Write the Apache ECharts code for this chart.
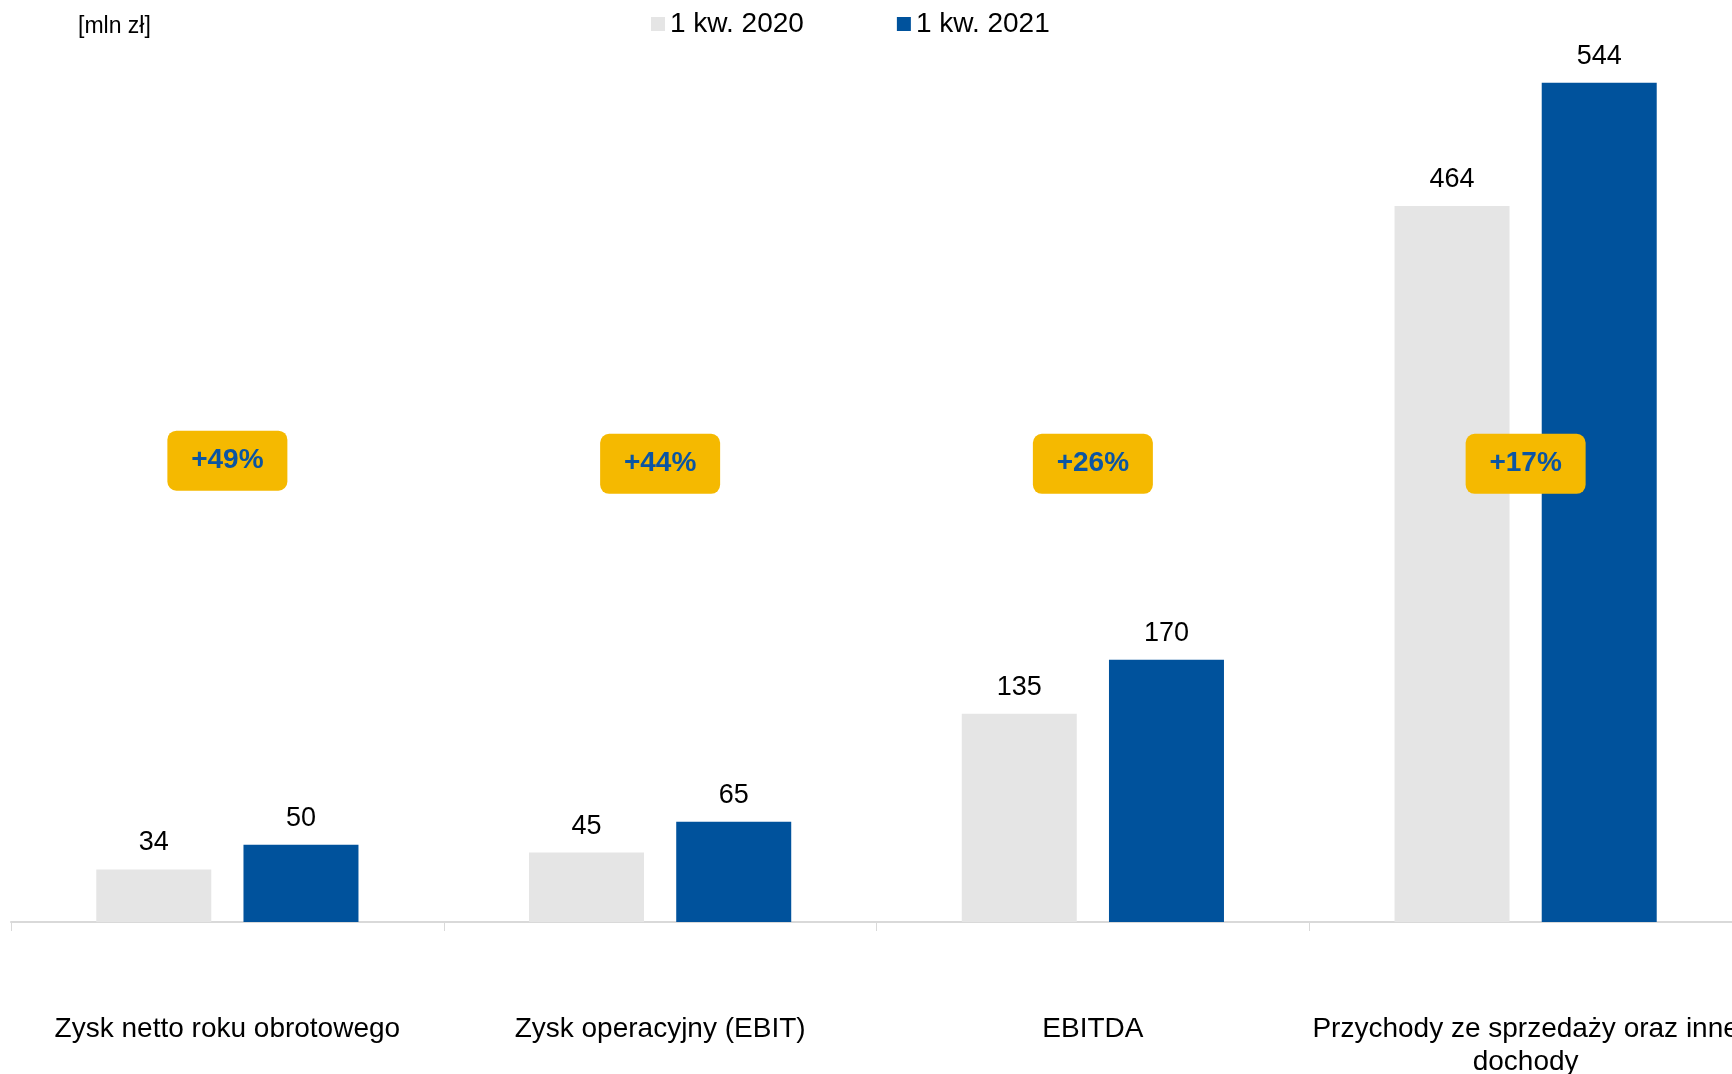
<!DOCTYPE html>
<html>
<head>
<meta charset="utf-8">
<script src="https://cdn.jsdelivr.net/npm/echarts@6/dist/echarts.min.js"></script>
<style>
    html, body { margin: 0; padding: 0; background: #fff; }
    #chart { width: 1732px; height: 1074px; }
</style>
</head>
<body>
<div id="chart"></div>
<script>
// dane z wykresu
const categories = ['Zysk netto roku obrotowego', 'Zysk operacyjny (EBIT)', 'EBITDA', 'Przychody ze sprzedaży oraz inne\ndochody']
const q1_2020 = [34, 45, 135, 464]
const q1_2021 = [50, 65, 170, 544]
const badgeText = ['+49%', '+44%', '+26%', '+17%']
const badgeLevel = [299, 297, 297, 297]

const FONT = '"Liberation Sans", Arial, sans-serif'

let myChart = echarts.init(document.getElementById('chart'))

myChart.setOption({
    animation: false,
    title: {
        text: '[mln zł]',
        left: 73,
        top: 10,
        textStyle: {
            fontFamily: FONT,
            fontSize: 23,
            fontWeight: 'normal',
            color: '#000'
        }
    },
    legend: {
        data: ['1 kw. 2020', '1 kw. 2021'],
        left: 646,
        top: 5,
        icon: 'rect',
        itemWidth: 14,
        itemHeight: 14,
        itemGap: 93,
        textStyle: {
            fontFamily: FONT,
            fontSize: 28,
            color: '#000'
        }
    },
    grid: {
        left: 11,
        width: 1731,
        top: 58,
        bottom: 152,
        outerBoundsMode: 'none',
        containLabel: false
    },
    xAxis: {
        type: 'category',
        data: categories,
        axisLine: {
            lineStyle: { color: '#D9D9D9', width: 2 }
        },
        axisTick: {
            show: true,
            length: 9,
            lineStyle: { color: '#D9D9D9', width: 1 }
        },
        axisLabel: {
            interval: 0,
            margin: 91,
            fontFamily: FONT,
            fontSize: 28,
            lineHeight: 33,
            color: '#000'
        }
    },
    yAxis: {
        type: 'value',
        min: 0,
        max: 560,
        show: false,
        splitLine: { show: false }
    },
    series: [
        {
            name: '1 kw. 2020',
            type: 'bar',
            data: q1_2020,
            barWidth: 115,
            barGap: '28%',
            itemStyle: { color: '#E5E5E5' },
            label: {
                show: true,
                position: 'top',
                distance: 13,
                fontFamily: FONT,
                fontSize: 27,
                color: '#000'
            },
            emphasis: { disabled: true }
        },
        {
            name: '1 kw. 2021',
            type: 'bar',
            data: q1_2021,
            barWidth: 115,
            itemStyle: { color: '#00529C' },
            label: {
                show: true,
                position: 'top',
                distance: 13,
                fontFamily: FONT,
                fontSize: 27,
                color: '#000'
            },
            emphasis: { disabled: true }
        },
        {
            name: 'zmiana',
            type: 'scatter',
            data: badgeLevel,
            symbolSize: 0,
            z: 5,
            itemStyle: { opacity: 1 },
            label: {
                show: true,
                position: 'inside',
                formatter: function (p) {
                    return badgeText[p.dataIndex]
                },
                width: 120,
                height: 60,
                lineHeight: 60,
                align: 'center',
                verticalAlign: 'middle',
                backgroundColor: '#F5B900',
                borderRadius: 9,
                fontFamily: FONT,
                fontSize: 28,
                fontWeight: 'bold',
                color: '#0B55A2'
            },
            emphasis: { disabled: true }
        }
    ]
})
</script>
</body>
</html>
